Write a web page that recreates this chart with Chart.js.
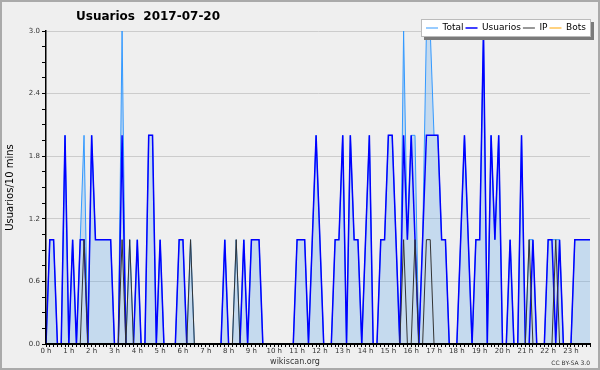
<!DOCTYPE html><html lang="es"><head><meta charset="utf-8">
<title>Usuarios 2017-07-20</title>
<script src="https://cdn.jsdelivr.net/npm/chart.js@4.4.0/dist/chart.umd.min.js"></script>
<style>
body { margin: 0; background: #efefef; }
</style>
</head><body>

<canvas id="chart" width="600" height="370"></canvas>

<script>
// one value every 10 minutes, 6 per hour
const hourLabels = ["0 h", "1 h", "2 h", "3 h", "4 h", "5 h", "6 h", "7 h", "8 h", "9 h", "10 h", "11 h",
  "12 h", "13 h", "14 h", "15 h", "16 h", "17 h", "18 h", "19 h", "20 h", "21 h", "22 h", "23 h"];

const times = [];
for (let h = 0; h < 24; h++) {
  for (let m = 0; m < 60; m += 10) {
    times.push(h + ":" + String(m).padStart(2, "0"));
  }
}

const total = [
  0,1,1,0,0,2, 0,1,0,1,2,0, 2,1,1,1,1,1, 0,0,3,0,1,0,
  1,0,0,2,2,0, 1,0,0,0,0,1, 1,0,1,0,0,0, 0,0,0,0,0,1,
  0,0,1,0,1,0, 1,1,1,0,0,0, 0,0,0,0,0,0, 1,1,1,0,1,2,
  1,0,0,0,1,1, 2,0,2,1,1,0, 1,2,0,0,1,1, 2,2,1,0,3,1,
  2,2,0,1,3,3, 2,2,1,1,0,0, 0,1,2,1,0,1, 1,3,0,2,1,2,
  0,0,1,0,0,2, 0,1,1,0,0,0, 1,1,1,1,0,0, 0,1,1,1,1,1,
];
const usuarios = [
  0,1,1,0,0,2, 0,1,0,1,1,0, 2,1,1,1,1,1, 0,0,2,0,0,0,
  1,0,0,2,2,0, 1,0,0,0,0,1, 1,0,0,0,0,0, 0,0,0,0,0,1,
  0,0,0,0,1,0, 1,1,1,0,0,0, 0,0,0,0,0,0, 1,1,1,0,1,2,
  1,0,0,0,1,1, 2,0,2,1,1,0, 1,2,0,0,1,1, 2,2,1,0,2,1,
  2,1,0,1,2,2, 2,2,1,1,0,0, 0,1,2,1,0,1, 1,3,0,2,1,2,
  0,0,1,0,0,2, 0,0,1,0,0,0, 1,1,0,1,0,0, 0,1,1,1,1,1,
];
const ip = [
  0,0,0,0,0,0, 0,0,0,0,1,0, 0,0,0,0,0,0, 0,0,1,0,1,0,
  0,0,0,0,0,0, 0,0,0,0,0,0, 0,0,1,0,0,0, 0,0,0,0,0,0,
  0,0,1,0,0,0, 0,0,0,0,0,0, 0,0,0,0,0,0, 0,0,0,0,0,0,
  0,0,0,0,0,0, 0,0,0,0,0,0, 0,0,0,0,0,0, 0,0,0,0,1,0,
  0,1,0,0,1,1, 0,0,0,0,0,0, 0,0,0,0,0,0, 0,0,0,0,0,0,
  0,0,0,0,0,0, 0,1,0,0,0,0, 0,0,1,0,0,0, 0,0,0,0,0,0,
];
const bots = [
  0,0,0,0,0,0, 0,0,0,0,0,0, 0,0,0,0,0,0, 0,0,0,0,0,0,
  0,0,0,0,0,0, 0,0,0,0,0,0, 0,0,0,0,0,0, 0,0,0,0,0,0,
  0,0,0,0,0,0, 0,0,0,0,0,0, 0,0,0,0,0,0, 0,0,0,0,0,0,
  0,0,0,0,0,0, 0,0,0,0,0,0, 0,0,0,0,0,0, 0,0,0,0,0,0,
  0,0,0,0,0,0, 0,0,0,0,0,0, 0,0,0,0,0,0, 0,0,0,0,0,0,
  0,0,0,0,0,0, 0,0,0,0,0,0, 0,0,0,0,0,0, 0,0,0,0,0,0,
];

Chart.defaults.font.family = "'DejaVu Sans', sans-serif";

// legend sits over the top right corner of the plot, in a white box with a shadow
const frame = {
  id: "frame",
  afterInit(chart) {
    const lg = chart.legend;
    const fit = lg.fit;
    lg.fit = function () { fit.call(this); this.height = 0; };
    lg.drawLater = lg.draw;
    lg.draw = () => {};
  },
  afterLayout(chart) {
    const lg = chart.legend;
    lg.left = 424; lg.right = 598; lg.top = 21.5; lg.bottom = 37;
    lg.width = lg.right - lg.left; lg.height = lg.bottom - lg.top;
    chart.titleBlock.left = 76;
    chart.titleBlock.right = 400;
  },
  beforeDraw(chart) {
    const ctx = chart.ctx;
    ctx.save();
    ctx.fillStyle = "#efefef";
    ctx.fillRect(0, 0, chart.width, chart.height);
    ctx.restore();
  },
  afterDraw(chart) {
    const ctx = chart.ctx;
    ctx.save();
    ctx.fillStyle = "#7a7a7a";
    ctx.fillRect(424, 22, 170, 18);
    ctx.fillStyle = "#fff";
    ctx.fillRect(421, 19, 170, 18);
    ctx.strokeStyle = "#bbb";
    ctx.lineWidth = 1;
    ctx.strokeRect(421.5, 19.5, 169, 17);
    ctx.restore();
    chart.legend.drawLater();
    ctx.save();
    ctx.font = "6px 'DejaVu Sans'";
    ctx.fillStyle = "#333";
    ctx.textAlign = "right";
    ctx.textBaseline = "middle";
    ctx.fillText("CC BY-SA 3.0", 590, 363);
    ctx.strokeStyle = "#aaa";
    ctx.lineWidth = 2;
    ctx.strokeRect(1, 1, 598, 368);
    ctx.restore();
  }
};

const ctx = document.getElementById("chart").getContext("2d");
const chart = new Chart(ctx, {
  type: "line",
  data: {
    labels: times,
    datasets: [
      { label: "Total", data: total, borderColor: "#3399ff", backgroundColor: "rgba(100,170,235,0.3)", fill: "origin", borderWidth: 1, order: 3 },
      { label: "Usuarios", data: usuarios, borderColor: "#0000ff", borderWidth: 1.5, fill: false, order: 2 },
      { label: "IP", data: ip, borderColor: "#333333", borderWidth: 1, fill: false, order: 1 },
      { label: "Bots", data: bots, borderColor: "#ffa500", borderWidth: 1, fill: false, order: 4 },
    ]
  },
  options: {
    responsive: false,
    animation: false,
    layout: { padding: { left: 0, right: 10, top: 0, bottom: 3.4 } },
    elements: { point: { radius: 0 }, line: { tension: 0 } },
    plugins: {
      title: {
        display: true,
        text: "Usuarios  2017-07-20",
        align: "start",
        color: "#000",
        font: { size: 12, weight: "bold" },
        padding: { top: 10, bottom: 6.6 }
      },
      subtitle: {
        display: true,
        position: "bottom",
        text: "wikiscan.org",
        color: "#333",
        font: { size: 8 },
        padding: 0
      },
      legend: {
        position: "top",
        align: "start",
        labels: {
          usePointStyle: true,
          pointStyle: "line",
          pointStyleWidth: 12,
          boxHeight: 9,
          padding: 2,
          color: "#000",
          font: { size: 9 },
          sort: (a, b) => a.datasetIndex - b.datasetIndex
        }
      },
      tooltip: { enabled: false }
    },
    scales: {
      x: {
        afterFit: (s) => { s.height = 13; },
        grid: { drawOnChartArea: false, tickLength: 3, tickColor: "#000" },
        border: { color: "#000", width: 2, z: 1 },
        ticks: {
          autoSkip: false,
          maxRotation: 0,
          minRotation: 0,
          padding: 0,
          color: "#333",
          font: { size: 7 },
          callback: (v, i) => i % 6 === 0 ? hourLabels[i / 6] : ""
        }
      },
      y: {
        min: 0,
        max: 3,
        afterFit: (s) => { s.width = 46; },
        grid: {
          color: (c) => c.index % 4 === 0 ? "#cccccc" : "rgba(0,0,0,0)",
          tickLength: 4,
          tickColor: "#000"
        },
        border: { color: "#000", width: 1.5, z: 1 },
        title: {
          display: true,
          text: "Usuarios/10 mins",
          color: "#000",
          font: { size: 10 },
          padding: { top: 4, bottom: 0 }
        },
        ticks: {
          stepSize: 0.15,
          maxTicksLimit: 25,
          autoSkip: false,
          padding: 2,
          color: "#333",
          font: { size: 7 },
          callback: (v, i) => i % 4 === 0 ? v.toFixed(1) : ""
        }
      }
    }
  },
  plugins: [frame]
});
</script>

</body>
</html>
